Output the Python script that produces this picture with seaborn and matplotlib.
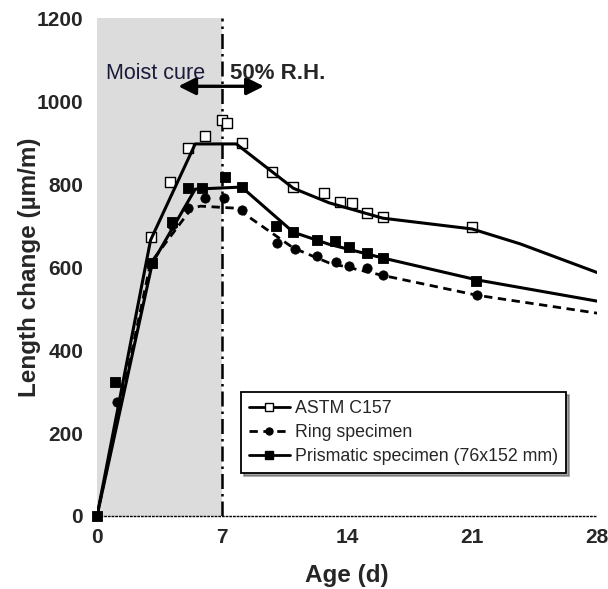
import numpy as np
import pandas as pd
import matplotlib
matplotlib.use("Agg")
import matplotlib.pyplot as plt
import seaborn as sns
from matplotlib.lines import Line2D

# === Data ===
# trend lines
astm_line_x = [0, 3, 5.5, 7.8, 11, 13, 16, 21, 23.7, 28]
astm_line_y = [0, 665, 897, 897, 790, 755, 718, 692, 656, 587]
ring_line_x = [0, 3, 5.3, 5.8, 7.8, 11, 13, 16, 21.3, 28]
ring_line_y = [0, 610, 742, 747, 742, 646, 610, 580, 532, 489]
prism_line_x = [0, 3.1, 5.5, 8.1, 11, 13, 16, 21.3, 28]
prism_line_y = [0, 610, 788, 793, 684, 655, 622, 569, 518]

# measured points
astm_pts_x = [3.0, 4.1, 5.1, 6.05, 7.0, 7.3, 8.1, 9.8, 11.0, 12.7, 13.6, 14.3, 15.1, 16.0, 21.0]
astm_pts_y = [672, 805, 886, 916, 954, 947, 899, 829, 793, 778, 757, 754, 730, 720, 696]
ring_pts_x = [1.1, 3.1, 4.2, 5.1, 6.05, 7.1, 8.1, 10.1, 11.1, 12.3, 13.4, 14.1, 15.1, 16.0, 21.3]
ring_pts_y = [275, 610, 701, 742, 766, 766, 737, 658, 643, 626, 612, 602, 597, 580, 532]
prism_pts_x = [0, 1.0, 3.1, 4.2, 5.1, 5.9, 7.15, 8.1, 10.0, 11.0, 12.3, 13.3, 14.1, 15.1, 16.0, 21.2]
prism_pts_y = [0, 323, 610, 708, 790, 790, 817, 793, 699, 684, 665, 663, 648, 634, 622, 566]

x_ticks = [0, 7, 14, 21, 28]
y_ticks = [0, 200, 400, 600, 800, 1000, 1200]
labels = ["ASTM C157", "Ring specimen", "Prismatic specimen (76x152 mm)"]

sns.set_style("white")
plt.rcParams['font.family'] = ['Liberation Sans', 'DejaVu Sans']

fig = plt.figure(figsize=(6.08, 5.89), dpi=100)
ax = fig.add_axes([0.1595, 0.124, 0.8225, 0.845])

# moist cure zone
ax.axvspan(0, 7, color="#dcdcdc", zorder=0, lw=0)
ax.axvline(7, color="black", lw=1.8, ls=(0, (6, 2, 1, 2)), zorder=1)

sns.lineplot(x=astm_line_x, y=astm_line_y, ax=ax, color="black", lw=2.2, zorder=3)
sns.lineplot(x=ring_line_x, y=ring_line_y, ax=ax, color="black", lw=2.0, zorder=3,
             linestyle=(0, (3, 2)))
sns.lineplot(x=prism_line_x, y=prism_line_y, ax=ax, color="black", lw=2.2, zorder=3)

sns.scatterplot(x=astm_pts_x, y=astm_pts_y, ax=ax, marker="s", s=55, color="white",
                edgecolor="black", linewidth=1.0, zorder=2)
sns.scatterplot(x=ring_pts_x, y=ring_pts_y, ax=ax, marker="o", s=45, color="black",
                edgecolor="black", zorder=4)
sns.scatterplot(x=prism_pts_x, y=prism_pts_y, ax=ax, marker="s", s=60, color="black",
                edgecolor="black", zorder=4)
for c in ax.collections:
    c.set_clip_on(False)

# annotations
ax.annotate("", xy=(4.4, 1036), xytext=(9.5, 1036),
            arrowprops=dict(arrowstyle="<|-|>", color="black", lw=2.4, mutation_scale=26))
ax.text(0.5, 1068, "Moist cure", fontsize=15.5, color="#1a1a3a", va="center", ha="left")
ax.text(7.45, 1068, "50% R.H.", fontsize=16, fontweight="bold", va="center", ha="left")

ax.set_xlim(0, 28)
ax.set_ylim(0, 1200)
ax.set_xticks(x_ticks)
ax.set_yticks(y_ticks)
ax.tick_params(length=0, labelsize=15)
ax.tick_params(axis="y", pad=10)
ax.tick_params(axis="x", pad=9)
for t in ax.get_xticklabels() + ax.get_yticklabels():
    t.set_fontweight("bold")
ax.set_xlabel("Age (d)", fontsize=17.5, fontweight="bold", labelpad=12)
ax.set_ylabel("Length change (\u00b5m/m)", fontsize=17.5, fontweight="bold")
ax.yaxis.set_label_coords(-0.111, 0.5)

for side in ["left", "right", "top"]:
    ax.spines[side].set_visible(False)
ax.spines["bottom"].set_linestyle(":")
ax.spines["bottom"].set_linewidth(1.0)
ax.spines["bottom"].set_color("black")

handles = [
    Line2D([0], [0], color="black", lw=2, marker="s", markersize=6,
           markerfacecolor="white", markeredgecolor="black"),
    Line2D([0], [0], color="black", lw=2, ls=(0, (3, 2)), marker="o", markersize=5,
           markerfacecolor="black"),
    Line2D([0], [0], color="black", lw=2, marker="s", markersize=6,
           markerfacecolor="black"),
]
leg = ax.legend(handles, labels, loc="upper left", bbox_to_anchor=(0.27, 0.267),
                fontsize=12.8, frameon=True, fancybox=False, shadow=True,
                handlelength=2.3, handletextpad=0.3, borderpad=0.45, labelspacing=0.4)
leg.get_frame().set_edgecolor("black")
leg.get_frame().set_linewidth(1.3)

fig.savefig("out.png", dpi=100)
